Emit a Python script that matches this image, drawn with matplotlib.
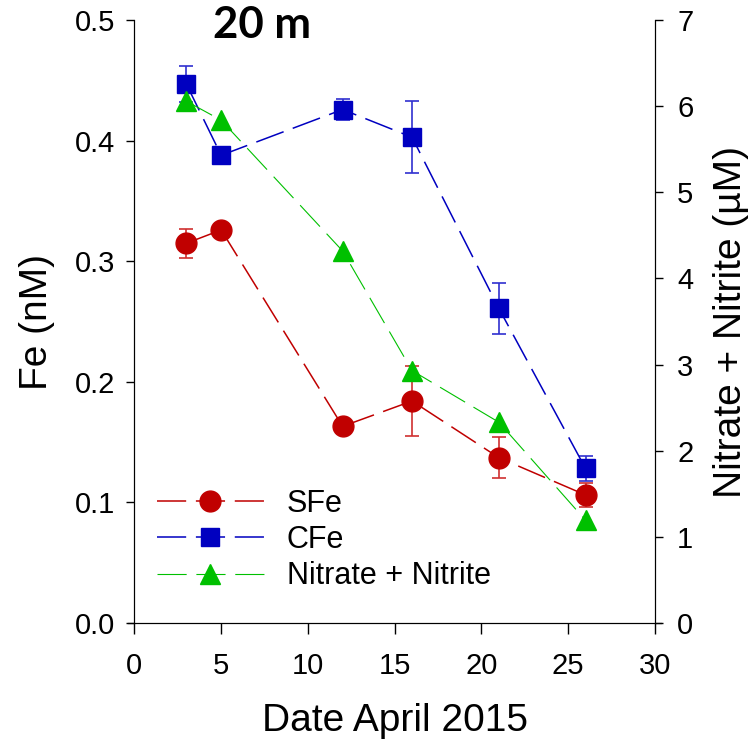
import matplotlib
matplotlib.use('Agg')
import matplotlib.pyplot as plt

plt.rcParams['font.family'] = ['Liberation Sans', 'DejaVu Sans']
plt.rcParams['lines.scale_dashes'] = False

# data
days = [3, 5, 12, 16, 21, 26]
sfe = [0.315, 0.326, 0.163, 0.184, 0.137, 0.106]
sfe_err = [0.012, 0.0, 0.0, 0.029, 0.017, 0.010]
cfe = [0.447, 0.388, 0.426, 0.403, 0.261, 0.128]
cfe_err = [0.015, 0.0, 0.009, 0.030, 0.021, 0.010]
nitrate = [6.06, 5.84, 4.32, 2.93, 2.33, 1.19]

red = '#C00000'
blue = '#0000C0'
green = '#00C000'

fig = plt.figure(figsize=(7.55, 7.41), dpi=100)
ax1 = fig.add_axes([0.178, 0.1597, 0.6895, 0.8128])
ax2 = ax1.twinx()

dash = (21, 7)

ax1.errorbar(days, sfe, yerr=sfe_err, fmt='none', ecolor='#D03030', elinewidth=1.2, capsize=5, capthick=1.2)
ax1.errorbar(days, cfe, yerr=cfe_err, fmt='none', ecolor='#3030D0', elinewidth=1.2, capsize=5, capthick=1.2)
l1, = ax1.plot(days, sfe, color=red, lw=1.1, dashes=dash, marker='o', ms=15, mec=red, mfc=red, label='SFe')
l2, = ax1.plot(days, cfe, color=blue, lw=1.1, dashes=dash, marker='s', ms=13, mec=blue, mfc=blue, label='CFe')
l3, = ax2.plot(days, nitrate, color=green, lw=0.8, dashes=dash, marker='^', ms=15, mec=green, mfc=green,
               label='Nitrate + Nitrite')

ax1.set_xlim(0, 30)
ax1.set_ylim(0, 0.5)
ax2.set_ylim(0, 7)
ax1.set_xticks([0, 5, 10, 15, 20, 25, 30])
ax1.set_yticks([0.0, 0.1, 0.2, 0.3, 0.4, 0.5])
ax1.set_yticklabels(['0.0', '0.1', '0.2', '0.3', '0.4', '0.5'])
ax2.set_yticks(range(0, 8))

for ax in (ax1, ax2):
    ax.spines['top'].set_visible(False)
    ax.spines['bottom'].set_bounds(-0.35, 30.35)
    ax.tick_params(direction='out', length=6, width=1, labelsize=21, pad=8)
ax1.tick_params(axis='x', length=8, pad=13)
ax2.tick_params(axis='y', pad=10)

ax1.set_xlabel('Date April 2015', fontsize=28, labelpad=17)
ax1.set_ylabel('Fe (nM)', fontsize=28, labelpad=14)
ax2.set_ylabel('Nitrate + Nitrite (µM)', fontsize=28, labelpad=14)

fig.text(0.347, 0.966, '20 m', fontsize=31.5, fontweight='bold', family='Lato', ha='center', va='center')

ax2.legend(handles=[l1, l2, l3], loc='center left', bbox_to_anchor=(0.043, 0.137), frameon=False,
           fontsize=22, handlelength=3.5, handletextpad=0.75, labelspacing=0.2, borderpad=0, borderaxespad=0)

fig.savefig('out.png', dpi=100)
